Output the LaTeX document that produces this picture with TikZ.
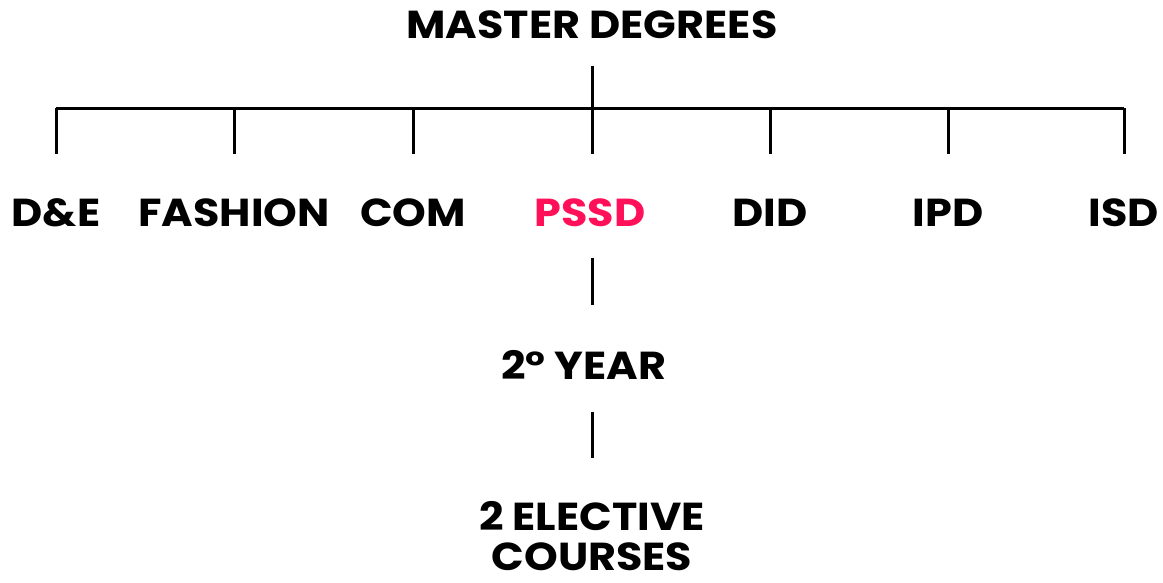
\documentclass[tikz,border=0pt]{standalone}
\usepackage{fontspec}
\setmainfont{Poppins}[BoldFont={* Bold}, FakeStretch=1.1]
\definecolor{pssdred}{RGB}{255,16,88}

\begin{document}
\begin{tikzpicture}[x=1pt,y=-1pt,
	lab/.style={inner sep=0pt, text height=28pt, text depth=0pt, font=\fontsize{39}{46}\selectfont\bfseries},
	link/.style={line width=3pt}]
	\useasboundingbox (0,0) rectangle (1163,582);
	\def\hy{108};
	\node[lab] (master) at (592,24) {MASTER DEGREES};
	\coordinate (hub) at (592,\hy);
	\draw[link, shorten <=28pt] (master) -- (hub);
	\draw[link] (56,\hy) coordinate (left) -- (1124,\hy) coordinate (right);
	\foreach \x/\name/\txt in {56/de/D\&E, 234/fashion/FASHION, 413/com/COM, 770/did/DID, 948/ipd/IPD, 1124/isd/ISD}{
		\node[lab, anchor=north] (\name) at (\x,198) {\txt};
		\coordinate (\name-top) at (\x,\hy);
		\draw[link, shorten >=44pt] (\name-top) -- (\x,198);
	}
	\node[lab, anchor=north, text=pssdred] (pssd) at (590,198) {PSSD};
	\draw[link, shorten >=44pt] (hub) -- (hub |- pssd.north);
	\node[lab, anchor=north] (year) at (584,351) {2° YEAR};
	\draw[link, shorten <=32pt, shorten >=46pt] (hub |- pssd.south) -- (hub |- year.north);
	\node[lab, anchor=north] (elective) at (592,502) {2 ELECTIVE};
	\node[lab, anchor=north] (courses) at (592,542) {COURSES};
	\draw[link, shorten <=33pt, shorten >=44pt] (hub |- year.south) -- (hub |- elective.north);
\end{tikzpicture}
\end{document}
